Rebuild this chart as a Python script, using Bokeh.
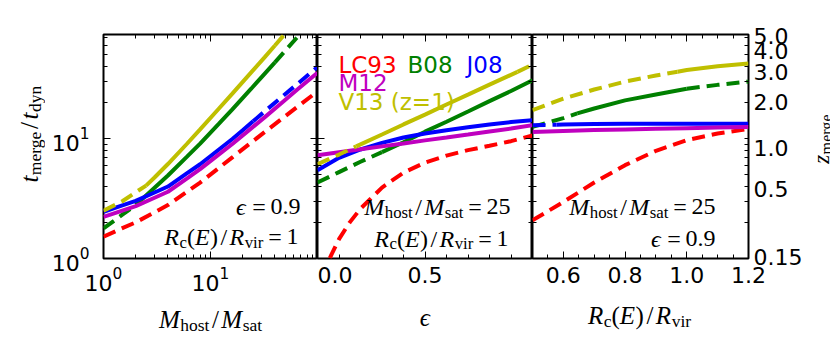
import math
from bokeh.plotting import figure
from bokeh.layouts import row, column
from bokeh.models import (FixedTicker, LogAxis, LinearAxis, Label, Range1d,
                          PrintfTickFormatter)
from bokeh.embed import file_html
from bokeh.resources import INLINE

# ---------------- data ----------------
models = ["LC93", "B08", "J08", "M12", "V13"]
colors = {"LC93": "#ff0000", "B08": "#008000", "J08": "#0000ff",
          "M12": "#bf00bf", "V13": "#bfbf00"}
legend_text = {"LC93": "LC93", "B08": "B08", "J08": "J08", "M12": "M12", "V13": "V13 (z=1)"}

# panel 1: t_merge/t_dyn vs M_host/M_sat  (eps=0.9, Rc/Rvir=1)
mass_lc93 = [1, 1.5, 2, 3, 4, 6, 8, 12, 16, 24, 32, 45, 64, 100]
t_mass_lc93 = [1.52, 1.79, 2.0, 2.43, 2.79, 3.59, 4.29, 5.7, 6.97, 9.26, 11.3, 14.3, 18.2, 24.7]
mass_b08 = [1, 1.5, 2, 3, 4, 6, 8, 12, 16, 24, 32, 40, 50, 64, 100]
t_mass_b08 = [1.78, 2.32, 2.79, 3.89, 4.92, 7.03, 9.07, 13.3, 17.5, 26.0, 34.6, 43.1, 53.9, 69.2, 109]
mass_j08 = [1, 1.5, 2, 3, 4, 6, 8, 12, 16, 20, 25, 32, 45, 64, 100]
t_mass_j08 = [2.45, 2.77, 3.02, 3.55, 3.98, 5.12, 6.1, 8.1, 9.9, 11.7, 13.9, 16.8, 21.7, 28.2, 39.4]
mass_m12 = [1, 1.5, 2, 3, 4, 6, 8, 12, 16, 24, 32, 45, 64, 100]
t_mass_m12 = [2.22, 2.51, 2.73, 3.21, 3.6, 4.63, 5.55, 7.37, 9.0, 12.15, 15.0, 19.4, 25.4, 35.3]
mass_v13 = [1, 1.5, 2, 2.5, 3, 4, 6, 8, 12, 16, 24, 32, 40, 50, 64, 100]
t_mass_v13 = [2.5, 3.0, 3.56, 4.05, 4.73, 6.13, 9.0, 11.9, 17.8, 23.7, 35.6, 47.5, 59.6, 75, 97, 158]

# panel 2: vs eccentricity eps (M_host/M_sat=25, Rc/Rvir=1)
eps_lc93 = [0.03, 0.05, 0.1, 0.15, 0.2, 0.3, 0.4, 0.5, 0.6, 0.7, 0.8, 0.9, 1.0]
t_eps_lc93 = [0.7, 0.95, 1.45, 2.0, 2.6, 3.9, 5.2, 6.3, 7.2, 8.0, 8.7, 9.5, 10.6]
eps_b08 = [0.0, 0.1, 0.2, 0.3, 0.4, 0.5, 0.6, 0.7, 0.8, 0.9, 1.0]
t_eps_b08 = [4.3, 5.25, 6.4, 7.7, 9.3, 11.4, 13.8, 16.8, 20.5, 24.9, 30.6]
eps_j08 = [0.0, 0.1, 0.2, 0.3, 0.4, 0.5, 0.6, 0.7, 0.8, 0.9, 1.0]
t_eps_j08 = [5.44, 6.9, 8.1, 9.2, 10.2, 11.0, 11.7, 12.4, 13.1, 13.7, 14.2]
eps_m12 = [0.0, 0.1, 0.2, 0.3, 0.4, 0.5, 0.6, 0.7, 0.8, 0.9, 1.0]
t_eps_m12 = [7.25, 7.68, 8.13, 8.6, 9.1, 9.65, 10.2, 10.8, 11.45, 12.1, 12.9]
eps_v13 = [0.0, 0.1, 0.18, 0.3, 0.4, 0.5, 0.6, 0.7, 0.8, 0.93, 1.0]
t_eps_v13 = [6.1, 7.35, 8.6, 10.8, 13.1, 15.8, 19.2, 23.2, 28.1, 35.9, 41.3]

# panel 3: vs Rc(E)/Rvir (M_host/M_sat=25, eps=0.9)
rc_lc93 = [0.5, 0.6, 0.7, 0.8, 0.9, 1.0, 1.1, 1.2]
t_rc_lc93 = [2.08, 2.96, 4.3, 6.0, 7.9, 9.7, 11.0, 12.0]
rc_b08 = [0.5, 0.6, 0.645, 0.7, 0.8, 0.9, 1.0, 1.1, 1.2]
t_rc_b08 = [12.5, 14.8, 16.2, 17.8, 20.8, 23.3, 26.0, 28.0, 29.8]
rc_j08 = [0.5, 0.578, 0.6, 0.7, 0.8, 0.9, 1.0, 1.1, 1.2]
t_rc_j08 = [12.9, 13.05, 13.1, 13.2, 13.3, 13.3, 13.3, 13.3, 13.3]
rc_m12 = [0.5, 0.6, 0.7, 0.8, 0.9, 1.0, 1.1, 1.2]
t_rc_m12 = [11.35, 11.55, 11.75, 11.9, 12.05, 12.2, 12.35, 12.5]
rc_v13 = [0.5, 0.6, 0.7, 0.8, 0.9, 0.97, 1.0, 1.1, 1.2]
t_rc_v13 = [17.2, 21.5, 25.6, 29.8, 33.5, 36.0, 37.2, 40.0, 42.2]

# ranges of validity (solid), outside dashed; None = all dashed
valid_mass = {"LC93": None, "B08": (2, 40), "J08": (1, 25), "M12": (1, 100), "V13": (2.5, 40)}
valid_eps = {"LC93": None, "B08": (0.3, 1.0), "J08": (0.0, 1.0), "M12": (0.0, 1.0), "V13": (0.18, 0.93)}
valid_rc = {"LC93": None, "B08": (0.645, 1.0), "J08": (0.578, 1.2), "M12": (0.5, 1.2), "V13": (0.97, 1.2)}

mass_data = {"LC93": (mass_lc93, t_mass_lc93), "B08": (mass_b08, t_mass_b08),
             "J08": (mass_j08, t_mass_j08), "M12": (mass_m12, t_mass_m12),
             "V13": (mass_v13, t_mass_v13)}
eps_data = {"LC93": (eps_lc93, t_eps_lc93), "B08": (eps_b08, t_eps_b08),
            "J08": (eps_j08, t_eps_j08), "M12": (eps_m12, t_eps_m12),
            "V13": (eps_v13, t_eps_v13)}
rc_data = {"LC93": (rc_lc93, t_rc_lc93), "B08": (rc_b08, t_rc_b08),
           "J08": (rc_j08, t_rc_j08), "M12": (rc_m12, t_rc_m12),
           "V13": (rc_v13, t_rc_v13)}

# ticks
y_major = [1, 10]
y_minor = [2, 3, 4, 5, 6, 7, 8, 9, 20, 30, 40, 50, 60, 70]
mass_major = [1, 10]
mass_minor = [2, 3, 4, 5, 6, 7, 8, 9, 20, 30, 40, 50, 60, 70, 80, 90]
eps_major = [0.0, 0.5]
eps_minor = [0.1, 0.2, 0.3, 0.4, 0.6, 0.7, 0.8, 0.9]
rc_major = [0.6, 0.8, 1.0, 1.2]
rc_minor = [0.55, 0.65, 0.7, 0.75, 0.85, 0.9, 0.95, 1.05, 1.1, 1.15]
z_labels = ["0.15", "0.5", "1.0", "2.0", "3.0", "4.0", "5.0"]
z_label_t = [1.02, 3.8, 8.4, 20.0, 35.5, 54.0, 72.0]

# ---------------- styling helpers ----------------
SANS = "DejaVu Sans"
SERIF = "Liberation Serif"
LW = 4
DASH = "13 7"
Y0, Y1 = 1.0, 73.6
ROW_H = 298
XLAB_H = 42
P3_RIGHT = 55
Z_W = 828 - (45 + 58 + 214 + 215 + 216 + P3_RIGHT)

W_R = {"a": .444, "b": .5, "c": .444, "d": .5, "e": .444, "g": .5, "h": .5, "i": .278,
       "m": .778, "n": .5, "o": .5, "r": .333, "s": .389, "t": .278, "v": .5, "y": .5,
       ".": .25, "/": .278, "=": .564, "(": .333, ")": .333}
W_I = {"M": .833, "R": .611, "E": .611, "t": .278, "z": .389, "ϵ": .45}


def tw(s, italic):
    d = W_I if italic else W_R
    return sum(d.get(ch, 0.5) for ch in s)


def mlabel(p, ax, ay, ox, oy, parts, size=24, align="left", vertical=False):
    items = []
    pos = 0.0
    for text, kind in parts:
        if kind == "s":
            fs = size * 0.7
            items.append((pos, -0.22 * size, text, fs, False))
            pos += tw(text, False) * fs
        elif kind == "i":
            items.append((pos, 0.0, text, size, True))
            pos += tw(text, True) * size + 0.02 * size
        elif kind == "r":
            items.append((pos, 0.0, text, size, False))
            pos += tw(text, False) * size
        elif kind == "b":
            pad = 0.1 * size
            pos += pad
            items.append((pos, 0.0, text, size, False))
            pos += tw(text, False) * size + pad
        elif kind == "o":
            pad = 0.2 * size
            pos += pad
            items.append((pos, 0.0, text, size, False))
            pos += tw(text, False) * size + pad
    total = pos
    start = {"left": 0.0, "center": -total / 2.0, "right": -total}[align]
    for a, s, text, fs, italic in items:
        along = start + a
        if vertical:
            dx, dy, ang = -s, along, math.pi / 2
        else:
            dx, dy, ang = along, s, 0.0
        p.add_layout(Label(x=ax, y=ay, x_offset=ox + dx, y_offset=oy + dy, text=text,
                           text_font=SERIF, text_font_style="italic" if italic else "normal",
                           text_font_size=f"{fs:.1f}px", text_color="black",
                           text_baseline="alphabetic", text_align="left", angle=ang))


def style_axis(ax, major, minor, labels=True, fixed=None):
    ax.ticker = FixedTicker(ticks=major, minor_ticks=minor)
    ax.major_tick_in = 7
    ax.major_tick_out = 0
    ax.minor_tick_in = 4
    ax.minor_tick_out = 0
    ax.major_tick_line_color = "black"
    ax.minor_tick_line_color = "black"
    ax.major_tick_line_width = 1
    ax.minor_tick_line_width = 1
    ax.axis_line_color = None
    if labels:
        ax.major_label_text_font = SANS
        ax.major_label_text_font_size = "22px"
        ax.major_label_text_color = "black"
    else:
        ax.formatter = PrintfTickFormatter(format=" ")
        ax.major_label_text_font_size = "1px"
        ax.major_label_text_alpha = 0
        ax.major_label_standoff = 0
    if fixed is not None:
        ax.fixed_location = fixed


def make_fig(x_type, xr, fw, mbl, mbr):
    p = figure(x_axis_type=x_type, y_axis_type="log", x_range=xr,
               y_range=Range1d(Y0, Y1), frame_width=fw, frame_height=224,
               min_border_left=mbl, min_border_right=mbr, min_border_top=34,
               min_border_bottom=ROW_H - 34 - 224, toolbar_location=None,
               output_backend="svg", background_fill_color="white",
               border_fill_color="white", outline_line_color="black",
               outline_line_width=2)
    p.grid.visible = False
    return p


def blank_fig(w, h):
    f = figure(width=w, height=h, x_range=Range1d(0, w), y_range=Range1d(0, h),
               x_axis_location=None, y_axis_location=None, min_border=0,
               toolbar_location=None, output_backend="svg", outline_line_color=None,
               background_fill_color="white", border_fill_color="white")
    f.grid.visible = False
    return f


def draw(p, data, valid):
    for m in models:
        xs, ts = data[m]
        c = colors[m]
        rng = valid[m]
        if rng is None:
            p.line(xs, ts, line_color=c, line_width=LW, line_dash=DASH)
            continue
        lo, hi = rng
        left = [(x, t) for x, t in zip(xs, ts) if x <= lo]
        mid = [(x, t) for x, t in zip(xs, ts) if lo <= x <= hi]
        right = [(x, t) for x, t in zip(xs, ts) if x >= hi]
        for seg, dash in ((left, DASH), (right, DASH), (mid, "solid")):
            if len(seg) >= 2:
                p.line([a for a, _ in seg], [b for _, b in seg], line_color=c,
                       line_width=LW, line_dash=dash)


R_PARTS = [("R", "i"), ("c", "s"), ("(", "r"), ("E", "i"), (")", "r"),
           ("/", "b"), ("R", "i"), ("vir", "s")]
M_PARTS = [("M", "i"), ("host", "s"), ("/", "b"), ("M", "i"), ("sat", "s")]

# ---------------- panel 1 ----------------
p1 = make_fig("log", Range1d(1, 100), 214, 58, 0)
draw(p1, mass_data, valid_mass)
style_axis(p1.xaxis[0], mass_major, mass_minor)
p1.xaxis[0].major_label_standoff = 8
style_axis(p1.yaxis[0], y_major, y_minor)
p1.yaxis[0].major_label_standoff = 14
a = LogAxis(); style_axis(a, mass_major, mass_minor, False, Y1); p1.add_layout(a, "above")
a = LogAxis(); style_axis(a, y_major, y_minor, False, 100); p1.add_layout(a, "right")

mlabel(p1, 100, Y0, -17, 51.6, [("ϵ", "i"), ("=", "o"), ("0.9", "r")], align="right")
mlabel(p1, 100, Y0, -19, 21.6, R_PARTS + [("=", "o"), ("1", "r")], align="right")

# ---------------- panel 2 ----------------
p2 = make_fig("linear", Range1d(0.0, 1.0), 215, 0, 0)
draw(p2, eps_data, valid_eps)
style_axis(p2.xaxis[0], eps_major, eps_minor)
p2.xaxis[0].formatter = PrintfTickFormatter(format="%.1f")
p2.xaxis[0].major_label_standoff = 8
style_axis(p2.yaxis[0], y_major, y_minor, False, 0.0)
a = LinearAxis(); style_axis(a, eps_major, eps_minor, False, Y1); p2.add_layout(a, "above")
a = LogAxis(); style_axis(a, y_major, y_minor, False, 1.0); p2.add_layout(a, "right")

leg_pos = {"LC93": (21, 193.3), "B08": (90, 193.3), "J08": (149, 193.3),
           "M12": (21, 175.3), "V13": (21, 156.6)}
for m in models:
    ox, oy = leg_pos[m]
    p2.add_layout(Label(x=0.0, y=Y0, x_offset=ox, y_offset=oy, text=legend_text[m],
                        text_font=SANS, text_font_size="23px", text_color=colors[m],
                        text_baseline="alphabetic", text_align="left"))
mlabel(p2, 1.0, Y0, -22, 51.6, M_PARTS + [("=", "o"), ("25", "r")], align="right")
mlabel(p2, 1.0, Y0, -24, 20, R_PARTS + [("=", "o"), ("1", "r")], align="right")

# ---------------- panel 3 ----------------
p3 = make_fig("linear", Range1d(0.5, 1.2), 216, 0, P3_RIGHT)
draw(p3, rc_data, valid_rc)
style_axis(p3.xaxis[0], rc_major, rc_minor)
p3.xaxis[0].formatter = PrintfTickFormatter(format="%.1f")
p3.xaxis[0].major_label_standoff = 8
style_axis(p3.yaxis[0], y_major, y_minor, False, 0.5)
a = LinearAxis(); style_axis(a, rc_major, rc_minor, False, Y1); p3.add_layout(a, "above")
zax = LogAxis()
style_axis(zax, z_label_t, y_major + y_minor)
zax.formatter = PrintfTickFormatter(format="%.2f")
zax.major_tick_in = 0
zax.major_label_standoff = 5
zax.major_label_overrides = {t: s for t, s in zip(z_label_t, z_labels)}
p3.add_layout(zax, "right")

mlabel(p3, 1.2, Y0, -33, 51.6, M_PARTS + [("=", "o"), ("25", "r")], align="right")
mlabel(p3, 1.2, Y0, -33, 20, [("ϵ", "i"), ("=", "o"), ("0.9", "r")], align="right")

# ---------------- label strips (axis titles) ----------------
ystrip = blank_fig(45, ROW_H)
mlabel(ystrip, 28.5, ROW_H - 197, 0, 0,
       [("t", "i"), ("merge", "s"), ("/", "b"), ("t", "i"), ("dyn", "s")],
       size=25, vertical=True)
zstrip = blank_fig(Z_W, ROW_H)
mlabel(zstrip, 15.5, ROW_H - 172, 0, 0, [("z", "i"), ("merge", "s")], size=23, vertical=True)

PAGE_H = ROW_H + XLAB_H
xstrip = blank_fig(828, XLAB_H)
mlabel(xstrip, 210, PAGE_H - 319, 0, 0, M_PARTS, size=25, align="center")
mlabel(xstrip, 425, PAGE_H - 317, 0, 0, [("ϵ", "i")], size=25, align="center")
mlabel(xstrip, 639, PAGE_H - 315, 0, 0, R_PARTS, size=25, align="center")

layout = column(row(ystrip, p1, p2, p3, zstrip, spacing=0), xstrip, spacing=0)
open("out.html", "w").write(file_html(layout, INLINE))
